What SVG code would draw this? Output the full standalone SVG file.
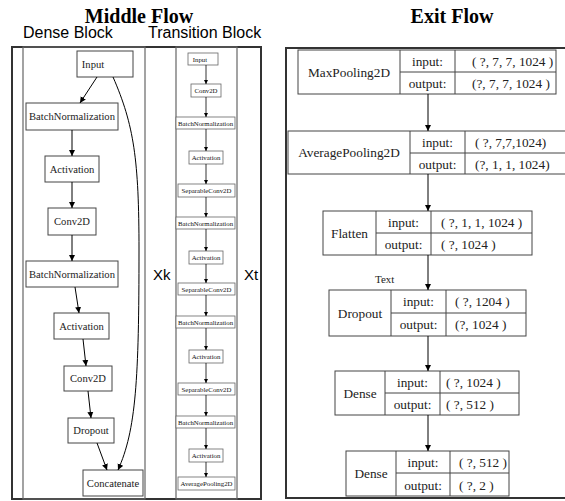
<svg xmlns="http://www.w3.org/2000/svg" width="565" height="501" viewBox="0 0 565 501">
<defs>
<marker id="ah" viewBox="0 0 10 10" refX="10" refY="5" markerWidth="6" markerHeight="7" markerUnits="userSpaceOnUse" orient="auto"><path d="M0,0 L10,5 L0,10 z" fill="#000"/></marker>
<marker id="ahs" viewBox="0 0 10 10" refX="10" refY="5" markerWidth="4" markerHeight="4" markerUnits="userSpaceOnUse" orient="auto"><path d="M0,0 L10,5 L0,10 z" fill="#000"/></marker>
<style>
.frame{fill:none;stroke:#333;stroke-width:2}
.inner{fill:none;stroke:#666;stroke-width:1.2}
.box{fill:#fff;stroke:#444;stroke-width:1}
.sbox{fill:#fff;stroke:#666;stroke-width:0.8}
.title{font-family:"Liberation Serif",serif;font-weight:bold;font-size:20px;fill:#000;text-anchor:middle}
.sub{font-family:"Liberation Sans",Arial,sans-serif;font-size:16px;fill:#000}
.x{font-family:"Liberation Sans",Arial,sans-serif;font-size:15px;fill:#000}
.t{font-family:"Liberation Serif",serif;font-size:10.6px;fill:#222;text-anchor:middle}
.ts{font-family:"Liberation Serif",serif;font-size:6.8px;fill:#111;text-anchor:middle}
.e{font-family:"Liberation Serif",serif;font-size:13.3px;fill:#222;text-anchor:middle}
.v{font-family:"Liberation Serif",serif;font-size:13.3px;fill:#222}
.edge{fill:none;stroke:#000;stroke-width:1;marker-end:url(#ah)}
.sedge{fill:none;stroke:#000;stroke-width:0.8;marker-end:url(#ahs)}
</style>
</defs>

<text class="title" x="139" y="23">Middle Flow</text>
<text class="sub" x="23" y="38">Dense Block</text>
<text class="sub" x="148" y="38">Transition Block</text>
<text class="title" x="452" y="23">Exit Flow</text>

<rect class="frame" x="12" y="47" width="249" height="452"/>
<rect class="inner" x="23" y="47" width="122" height="452"/>
<rect class="inner" x="176" y="47" width="61" height="452"/>
<text class="x" x="153" y="280">Xk</text>
<text class="x" x="244" y="280">Xt</text>
<rect class="frame" x="286" y="48" width="282" height="450"/>

<g id="dense-block">
<g id="d-input"><rect class="box" x="77" y="51" width="56" height="26"/><text class="t" x="93" y="67.5">Input</text></g>
<g id="d-bn1"><rect class="box" x="26" y="103" width="92" height="27"/><text class="t" x="72" y="120">BatchNormalization</text></g>
<g id="d-act1"><rect class="box" x="45" y="156" width="54" height="26"/><text class="t" x="72" y="172.5">Activation</text></g>
<g id="d-conv1"><rect class="box" x="48" y="208" width="48" height="27"/><text class="t" x="72" y="225">Conv2D</text></g>
<g id="d-bn2"><rect class="box" x="26" y="261" width="92" height="26"/><text class="t" x="72" y="277.5">BatchNormalization</text></g>
<g id="d-act2"><rect class="box" x="54" y="313" width="55" height="26"/><text class="t" x="81.5" y="329.5">Activation</text></g>
<g id="d-conv2"><rect class="box" x="64" y="366" width="48" height="25"/><text class="t" x="88" y="382">Conv2D</text></g>
<g id="d-dropout"><rect class="box" x="68" y="418" width="46" height="25"/><text class="t" x="91" y="434">Dropout</text></g>
<g id="d-concat"><rect class="box" x="83" y="470" width="60" height="26"/><text class="t" x="113" y="486.5">Concatenate</text></g>
</g>

<g id="transition-block">
<g id="t-input"><rect class="sbox" x="188" y="53" width="30" height="12"/><text class="ts" x="200" y="61.5">Input</text></g>
<g id="t-conv"><rect class="sbox" x="191" y="84" width="30" height="13"/><text class="ts" x="206" y="93">Conv2D</text></g>
<g id="t-bn1"><rect class="sbox" x="176" y="117" width="59" height="12"/><text class="ts" x="205.5" y="125.5">BatchNormalization</text></g>
<g id="t-act1"><rect class="sbox" x="189" y="151" width="34" height="13"/><text class="ts" x="206" y="160">Activation</text></g>
<g id="t-sep1"><rect class="sbox" x="178" y="184" width="57" height="13"/><text class="ts" x="206.5" y="193">SeparableConv2D</text></g>
<g id="t-bn2"><rect class="sbox" x="176" y="217" width="59" height="12"/><text class="ts" x="205.5" y="225.5">BatchNormalization</text></g>
<g id="t-act2"><rect class="sbox" x="189" y="251" width="34" height="13"/><text class="ts" x="206" y="260">Activation</text></g>
<g id="t-sep2"><rect class="sbox" x="178" y="283" width="57" height="12"/><text class="ts" x="206.5" y="291.5">SeparableConv2D</text></g>
<g id="t-bn3"><rect class="sbox" x="176" y="316" width="59" height="12"/><text class="ts" x="205.5" y="324.5">BatchNormalization</text></g>
<g id="t-act3"><rect class="sbox" x="189" y="350" width="34" height="13"/><text class="ts" x="206" y="359">Activation</text></g>
<g id="t-sep3"><rect class="sbox" x="178" y="383" width="57" height="12"/><text class="ts" x="206.5" y="391.5">SeparableConv2D</text></g>
<g id="t-bn4"><rect class="sbox" x="176" y="416" width="59" height="12"/><text class="ts" x="205.5" y="424.5">BatchNormalization</text></g>
<g id="t-act4"><rect class="sbox" x="189" y="449" width="34" height="13"/><text class="ts" x="206" y="458">Activation</text></g>
<g id="t-avg"><rect class="sbox" x="178" y="477" width="57" height="13"/><text class="ts" x="206.5" y="486">AveragePooling2D</text></g>
</g>

<g id="exit-flow">
<g id="e-maxpool">
<rect class="box" x="298" y="50" width="258" height="44"/>
<path d="M400,50V94M455,50V94M400,72H556" stroke="#444" fill="none"/>
<text class="e" x="349" y="76.5">MaxPooling2D</text>
<text class="e" x="427.5" y="66">input:</text><text class="e" x="427.5" y="88">output:</text>
<text class="v" x="472" y="66">( ?, 7, 7, 1024 )</text><text class="v" x="472" y="88">(?, 7, 7, 1024 )</text>
</g>
<g id="e-avgpool">
<rect class="box" x="288" y="131" width="282" height="43"/>
<path d="M410,131V174M465,131V174M410,153H570" stroke="#444" fill="none"/>
<text class="e" x="349" y="157">AveragePooling2D</text>
<text class="e" x="437.5" y="147">input:</text><text class="e" x="437.5" y="168.5">output:</text>
<text class="v" x="475" y="147">( ?, 7,7,1024)</text><text class="v" x="475" y="168.5">(?, 1, 1, 1024)</text>
</g>
<g id="e-flatten">
<rect class="box" x="323" y="211" width="209" height="44"/>
<path d="M376,211V255M431,211V255M376,233H532" stroke="#444" fill="none"/>
<text class="e" x="349.5" y="237.5">Flatten</text>
<text class="e" x="403.5" y="227">input:</text><text class="e" x="403.5" y="249">output:</text>
<text class="v" x="441" y="227">( ?, 1, 1, 1024 )</text><text class="v" x="441" y="249">( ?, 1024 )</text>
</g>
<text class="v" x="375" y="283" style="font-size:11px">Text</text>
<g id="e-dropout">
<rect class="box" x="329" y="290" width="197" height="46"/>
<path d="M391,290V336M446,290V336M391,313H526" stroke="#444" fill="none"/>
<text class="e" x="360" y="317.5">Dropout</text>
<text class="e" x="418.5" y="306">input:</text><text class="e" x="418.5" y="329">output:</text>
<text class="v" x="455" y="306">( ?, 1204 )</text><text class="v" x="455" y="329">(?, 1024 )</text>
</g>
<g id="e-dense1">
<rect class="box" x="335" y="371" width="184" height="44"/>
<path d="M385,371V415M440,371V415M385,393H519" stroke="#444" fill="none"/>
<text class="e" x="360" y="397.5">Dense</text>
<text class="e" x="412.5" y="387">input:</text><text class="e" x="412.5" y="409">output:</text>
<text class="v" x="446" y="387">( ?, 1024 )</text><text class="v" x="446" y="409">( ?, 512 )</text>
</g>
<g id="e-dense2">
<rect class="box" x="346" y="451" width="163" height="45"/>
<path d="M396,451V496M450,451V496M396,473H509" stroke="#444" fill="none"/>
<text class="e" x="371" y="478">Dense</text>
<text class="e" x="423" y="467">input:</text><text class="e" x="423" y="489.5">output:</text>
<text class="v" x="459" y="467">( ?, 512 )</text><text class="v" x="459" y="489.5">( ?, 2 )</text>
</g>
</g>

<g id="connectors">
<path class="edge" d="M97,77L80,103"/>
<path class="edge" d="M72,130V156"/>
<path class="edge" d="M72,182V208"/>
<path class="edge" d="M72,235V261"/>
<path class="edge" d="M75,287L79,313"/>
<path class="edge" d="M83,339L86,366"/>
<path class="edge" d="M88,391L91,418"/>
<path class="edge" d="M97,443L107,470"/>
<path class="edge" d="M113,77C134,125 139,160 139,250C139,380 136,430 118,470"/>
<path class="sedge" d="M206,65V84"/>
<path class="sedge" d="M206,97V117"/>
<path class="sedge" d="M206,129V151"/>
<path class="sedge" d="M206,164V184"/>
<path class="sedge" d="M206,197V217"/>
<path class="sedge" d="M206,229V251"/>
<path class="sedge" d="M206,264V283"/>
<path class="sedge" d="M206,295V316"/>
<path class="sedge" d="M206,328V350"/>
<path class="sedge" d="M206,363V383"/>
<path class="sedge" d="M206,395V416"/>
<path class="sedge" d="M206,428V449"/>
<path class="sedge" d="M206,462V477"/>
<path class="edge" d="M428,94V131"/>
<path class="edge" d="M428,174V211"/>
<path class="edge" d="M428,255V290"/>
<path class="edge" d="M428,336V371"/>
<path class="edge" d="M428,415V451"/>
</g>
</svg>
